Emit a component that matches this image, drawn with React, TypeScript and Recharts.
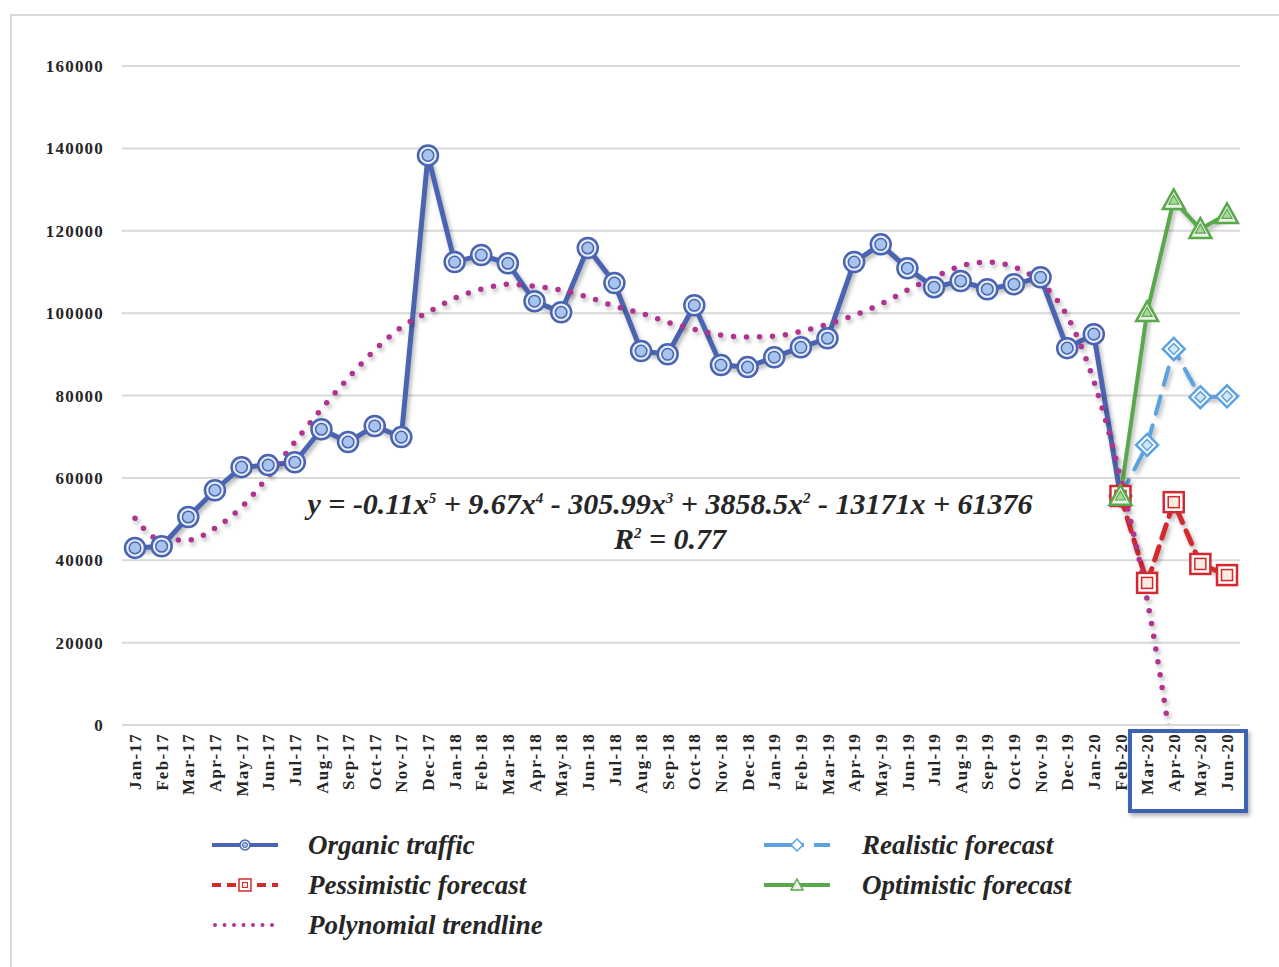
import React from 'react'
import { LineChart, Line, XAxis, YAxis, CartesianGrid } from 'recharts'

const months = [
  'Jan-17', 'Feb-17', 'Mar-17', 'Apr-17', 'May-17', 'Jun-17', 'Jul-17', 'Aug-17', 'Sep-17', 'Oct-17', 'Nov-17', 'Dec-17',
  'Jan-18', 'Feb-18', 'Mar-18', 'Apr-18', 'May-18', 'Jun-18', 'Jul-18', 'Aug-18', 'Sep-18', 'Oct-18', 'Nov-18', 'Dec-18',
  'Jan-19', 'Feb-19', 'Mar-19', 'Apr-19', 'May-19', 'Jun-19', 'Jul-19', 'Aug-19', 'Sep-19', 'Oct-19', 'Nov-19', 'Dec-19',
  'Jan-20', 'Feb-20', 'Mar-20', 'Apr-20', 'May-20', 'Jun-20',
]

const organic = [
  43000, 43400, 50500, 57000, 62600, 63100, 63800, 71800, 68700, 72600, 69900, 138300,
  112400, 114100, 112100, 102900, 100200, 115800, 107300, 90800, 90000, 101900, 87400, 86900,
  89300, 91700, 93900, 112400, 116700, 110900, 106300, 107800, 105800, 107000, 108700, 91500,
  94900, 55600, null, null, null, null,
]

// forecasts start from the last real month (Feb-20)
const pessimistic = [55600, 34500, 54100, 39100, 36400]
const realistic = [55600, 68000, 91300, 79600, 79800]
const optimistic = [55600, 100200, 127400, 120400, 124000]

const trendline = [
  50200, 44900, 44900, 47800, 52900, 60400, 68700, 76700, 84200, 91000, 96600, 100200,
  103600, 105800, 107000, 106500, 105600, 103900, 101700, 100000, 97800, 96100, 94700, 94200,
  94400, 95600, 97300, 99500, 102200, 105600, 108700, 111400, 112400, 111200, 107500, 99300,
  83500, 60000, 30500, -9000, null, null,
]

const yTicks = [0, 20000, 40000, 60000, 80000, 100000, 120000, 140000, 160000]

const forecastStart = months.indexOf('Feb-20')

const data = months.map((m, i) => {
  const k = i - forecastStart
  return {
    month: m,
    organic: organic[i],
    trend: trendline[i],
    pessimistic: k >= 0 ? pessimistic[k] : null,
    realistic: k >= 0 ? realistic[k] : null,
    optimistic: k >= 0 ? optimistic[k] : null,
  }
})

const BLUE = '#4a64b2'
const RED = '#d42a2f'
const LIGHTBLUE = '#5ba3e0'
const GREEN = '#5aa84c'
const MAGENTA = '#b1328f'
const serif = '"Liberation Serif", "Times New Roman", serif'

const CircleDot = (props: any) => {
  const { cx, cy, index } = props
  if (cx == null || cy == null) return <g key={index} />
  return (
    <g key={index}>
      <circle cx={cx} cy={cy} r={10} fill="#e6eef9" stroke={BLUE} strokeWidth={2.5} />
      <circle cx={cx} cy={cy} r={5.8} fill="#a7c4ec" stroke={BLUE} strokeWidth={1.5} />
    </g>
  )
}

const SquareDot = (props: any) => {
  const { cx, cy, index } = props
  if (cx == null || cy == null) return <g key={index} />
  return (
    <g key={index}>
      <rect x={cx - 10} y={cy - 10} width={20} height={20} fill="#fff" stroke={RED} strokeWidth={2.5} />
      <rect x={cx - 5.5} y={cy - 5.5} width={11} height={11} fill="#f8ebe0" stroke={RED} strokeWidth={1.5} />
    </g>
  )
}

const DiamondDot = (props: any) => {
  const { cx, cy, index } = props
  if (cx == null || cy == null) return <g key={index} />
  const d = (s: number) => `${cx},${cy - s} ${cx + s},${cy} ${cx},${cy + s} ${cx - s},${cy}`
  return (
    <g key={index}>
      <polygon points={d(11)} fill="#fff" stroke={LIGHTBLUE} strokeWidth={2.5} />
      <polygon points={d(5.5)} fill="#d3e6f7" stroke={LIGHTBLUE} strokeWidth={1.5} />
    </g>
  )
}

const TriangleDot = (props: any) => {
  const { cx, cy, index } = props
  if (cx == null || cy == null) return <g key={index} />
  const t = (s: number) => `${cx},${cy - s} ${cx + s},${cy + s * 0.8} ${cx - s},${cy + s * 0.8}`
  return (
    <g key={index}>
      <polygon points={t(11)} fill="#eaf5e6" stroke={GREEN} strokeWidth={2.5} />
      <polygon points={t(5)} fill="#a9d69b" stroke={GREEN} strokeWidth={1.2} />
    </g>
  )
}

const MonthTick = (props: any) => {
  const { x, y, payload } = props
  return (
    <g transform={`translate(${x},${y})`}>
      <text
        transform="rotate(-90)"
        x={-8}
        y={0}
        dy="0.36em"
        textAnchor="end"
        fontFamily={serif}
        fontWeight="bold"
        fontSize={17}
        letterSpacing={1.3}
        fill="#262626"
      >
        {payload.value}
      </text>
    </g>
  )
}

const legendLeft = [
  { name: 'Organic traffic', icon: 'organic' },
  { name: 'Pessimistic forecast', icon: 'pessimistic' },
  { name: 'Polynomial trendline', icon: 'trend' },
]
const legendRight = [
  { name: 'Realistic forecast', icon: 'realistic' },
  { name: 'Optimistic forecast', icon: 'optimistic' },
]

const LegendIcon = ({ kind }: { kind: string }) => {
  const w = 66
  const c = 10
  if (kind === 'organic')
    return (
      <svg width={w} height={20}>
        <line x1={0} y1={c} x2={w} y2={c} stroke={BLUE} strokeWidth={4} />
        <circle cx={33} cy={c} r={5} fill="#e6eef9" stroke={BLUE} strokeWidth={1.5} />
        <circle cx={33} cy={c} r={2.5} fill="#a7c4ec" stroke={BLUE} strokeWidth={1} />
      </svg>
    )
  if (kind === 'pessimistic')
    return (
      <svg width={w} height={20}>
        <line x1={0} y1={c} x2={w} y2={c} stroke={RED} strokeWidth={4} strokeDasharray="9 6" />
        <rect x={27} y={c - 6} width={12} height={12} fill="#fff" stroke={RED} strokeWidth={1.5} />
        <rect x={30.5} y={c - 2.5} width={5} height={5} fill="#f8ebe0" stroke={RED} strokeWidth={1} />
      </svg>
    )
  if (kind === 'trend')
    return (
      <svg width={w} height={20}>
        <line x1={3} y1={c} x2={w} y2={c} stroke={MAGENTA} strokeWidth={4} strokeDasharray="0 9.5" strokeLinecap="round" />
      </svg>
    )
  if (kind === 'realistic')
    return (
      <svg width={w} height={20}>
        <line x1={0} y1={c} x2={w} y2={c} stroke={LIGHTBLUE} strokeWidth={4} strokeDasharray="40 10 16 0" />
        <polygon points={`33,${c - 6} 39,${c} 33,${c + 6} 27,${c}`} fill="#fff" stroke={LIGHTBLUE} strokeWidth={1.5} />
      </svg>
    )
  return (
    <svg width={w} height={20}>
      <line x1={0} y1={c} x2={w} y2={c} stroke={GREEN} strokeWidth={4} />
      <polygon points={`33,${c - 6} 39,${c + 5} 27,${c + 5}`} fill="#eaf5e6" stroke={GREEN} strokeWidth={1.5} />
    </svg>
  )
}

const LegendColumn = ({ items, left, textGap }: { items: { name: string; icon: string }[]; left: number; textGap: number }) => (
  <div style={{ position: 'absolute', left, top: 825 }}>
    {items.map((it) => (
      <div key={it.name} style={{ display: 'flex', alignItems: 'center', height: 40 }}>
        <LegendIcon kind={it.icon} />
        <span
          style={{
            marginLeft: textGap,
            fontFamily: serif,
            fontStyle: 'italic',
            fontWeight: 'bold',
            fontSize: 27,
            color: '#262626',
          }}
        >
          {it.name}
        </span>
      </div>
    ))}
  </div>
)

const supStyle = { fontSize: 15, lineHeight: 0 }

export default function App() {
  return (
    <div style={{ position: 'absolute', left: 0, top: 0, width: 1279, height: 967, background: '#fff', overflow: 'hidden' }}>
      <style>{`.recharts-line { filter: drop-shadow(2px 3px 2px rgba(0,0,0,0.3)); }`}</style>
      <div
        style={{
          position: 'absolute',
          left: 10,
          top: 14,
          width: 1300,
          height: 1000,
          borderTop: '2px solid #d9d9d9',
          borderLeft: '2px solid #d9d9d9',
        }}
      />
      <div style={{ position: 'absolute', left: 0, top: 0 }}>
        <LineChart width={1279} height={967} data={data} margin={{ top: 66, right: 39, left: 62, bottom: 152 }}>
          <CartesianGrid vertical={false} stroke="#d9d9d9" strokeWidth={2} />
          <XAxis
            dataKey="month"
            interval={0}
            height={90}
            padding={{ left: 13, right: 13 }}
            tick={<MonthTick />}
            tickLine={false}
            tickSize={0}
            tickMargin={0}
            axisLine={{ stroke: '#d9d9d9', strokeWidth: 2 }}
          />
          <YAxis
            width={60}
            domain={[0, 160000]}
            ticks={yTicks}
            allowDataOverflow
            axisLine={false}
            tickLine={false}
            tickSize={0}
            tickMargin={18}
            tick={{ fontFamily: serif, fontWeight: 'bold', fontSize: 17, fill: '#262626', letterSpacing: 1.2 }}
          />
          <Line
            dataKey="organic"
            stroke={BLUE}
            strokeWidth={5}
            dot={<CircleDot />}
            activeDot={false}
            isAnimationActive={false}
            connectNulls={false}
          />
          <Line
            dataKey="realistic"
            stroke={LIGHTBLUE}
            strokeWidth={4}
            strokeDasharray="18 12"
            strokeLinecap="round"
            dot={<DiamondDot />}
            activeDot={false}
            isAnimationActive={false}
          />
          <Line
            dataKey="pessimistic"
            stroke={RED}
            strokeWidth={5}
            strokeDasharray="14 9"
            strokeLinecap="round"
            dot={<SquareDot />}
            activeDot={false}
            isAnimationActive={false}
          />
          <Line
            dataKey="optimistic"
            stroke={GREEN}
            strokeWidth={4}
            dot={<TriangleDot />}
            activeDot={false}
            isAnimationActive={false}
          />
          <Line
            type="monotone"
            dataKey="trend"
            stroke={MAGENTA}
            strokeWidth={5.5}
            strokeDasharray="0 13"
            strokeLinecap="round"
            dot={false}
            activeDot={false}
            isAnimationActive={false}
          />
        </LineChart>
      </div>
      <div
        style={{
          position: 'absolute',
          left: 220,
          top: 486,
          width: 900,
          textAlign: 'center',
          fontFamily: serif,
          fontStyle: 'italic',
          fontWeight: 'bold',
          fontSize: 30,
          lineHeight: '35px',
          color: '#262626',
        }}
      >
        <div>
          y = -0.11x<sup style={supStyle}>5</sup> + 9.67x<sup style={supStyle}>4</sup> - 305.99x
          <sup style={supStyle}>3</sup> + 3858.5x<sup style={supStyle}>2</sup> - 13171x + 61376
        </div>
        <div>
          R<sup style={supStyle}>2</sup> = 0.77
        </div>
      </div>
      <div
        style={{
          position: 'absolute',
          left: 1128,
          top: 729,
          width: 120,
          height: 84,
          boxSizing: 'border-box',
          border: '4px solid #3d62b4',
          boxShadow: '2px 3px 4px rgba(0,0,0,0.3)',
        }}
      />
      <LegendColumn items={legendLeft} left={212} textGap={30} />
      <LegendColumn items={legendRight} left={764} textGap={32} />
    </div>
  )
}
